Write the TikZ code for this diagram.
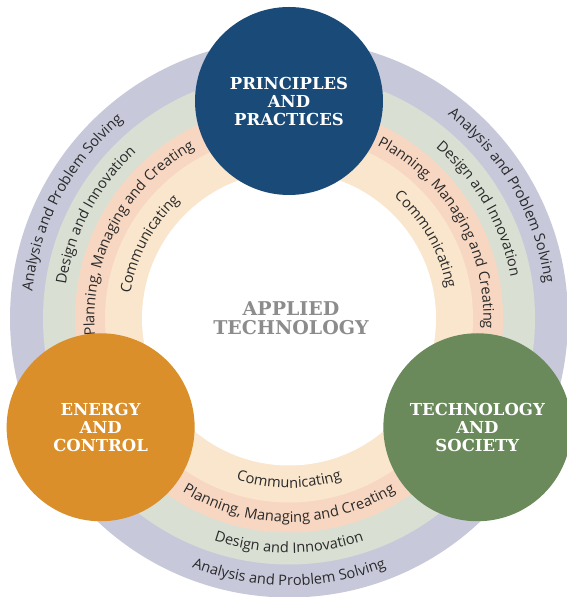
\documentclass[tikz,border=0pt]{standalone}
\usepackage{fontspec}
\setmainfont{Open Sans}
\newfontfamily\slab{DejaVu Serif}
\usetikzlibrary{decorations.text}
\definecolor{bandA}{HTML}{C7C9DB}
\definecolor{bandB}{HTML}{D9E0D3}
\definecolor{bandC}{HTML}{F8D7C2}
\definecolor{bandD}{HTML}{F9E6CC}
\definecolor{ppblue}{HTML}{1A4B78}
\definecolor{ecorange}{HTML}{DA8F2B}
\definecolor{tsgreen}{HTML}{6A8A5B}
\definecolor{centergray}{HTML}{8C8C8C}
\definecolor{bandink}{HTML}{2A2A2A}
\newcommand\bandarc[4]{%
  \path[decorate,decoration={text along path,text align=center,text color=bandink,
    text={|\fontsize{14.6}{16}\selectfont|#4}}]
    ([shift={(#1:#3)}]c) arc[start angle=#1,end angle=#2,radius=#3];}
\tikzset{
  topic/.style={circle,minimum size=188pt,inner sep=0pt,text=white,align=center,
    font=\slab\bfseries\fontsize{16.5}{18}\selectfont},
}
\begin{document}
\begin{tikzpicture}[x=1pt,y=1pt]
\useasboundingbox (0,0) rectangle (566,597);
\coordinate (c) at (289,278.5);
% rings
\fill[bandA] (c) circle[radius=279];
\fill[bandB] (c) circle[radius=246];
\fill[bandC] (c) circle[radius=214];
\fill[bandD] (c) circle[radius=184];
\fill[white] (c) circle[radius=147];
% upper-left texts (clockwise, centred at 152 deg)
\bandarc{212}{92}{258}{Analysis and Problem Solving}
\bandarc{212}{92}{225.5}{Design and Innovation}
\bandarc{212}{92}{194.5}{Planning, Managing and Creating}
\bandarc{212}{92}{160.5}{Communicating}
% upper-right texts (clockwise, centred at 30 deg)
\bandarc{90}{-30}{258}{Analysis and Problem Solving}
\bandarc{90}{-30}{225.5}{Design and Innovation}
\bandarc{90}{-30}{194.5}{Planning, Managing and Creating}
\bandarc{90}{-30}{160.5}{Communicating}
% bottom texts (counter-clockwise, centred at 270 deg)
\bandarc{210}{330}{267}{Analysis and Problem Solving}
\bandarc{210}{330}{234.5}{Design and Innovation}
\bandarc{210}{330}{203.5}{Planning, Managing and Creating}
\bandarc{210}{330}{169.5}{Communicating}
% topic circles
\node[topic,fill=ppblue] (pp) at ([shift={(90:217.5)}]c) {PRINCIPLES\\AND\\PRACTICES};
\node[topic,fill=ecorange] (ec) at ([shift={(210:217.5)}]c) {ENERGY\\AND\\CONTROL};
\node[topic,fill=tsgreen] (ts) at ([shift={(330:217.5)}]c) {TECHNOLOGY\\AND\\SOCIETY};
% centre title
\node[align=center,text=centergray,font=\slab\bfseries\fontsize{19}{19}\selectfont] (at) at ([xshift=2pt]c) {APPLIED\\TECHNOLOGY};
\end{tikzpicture}
\end{document}
